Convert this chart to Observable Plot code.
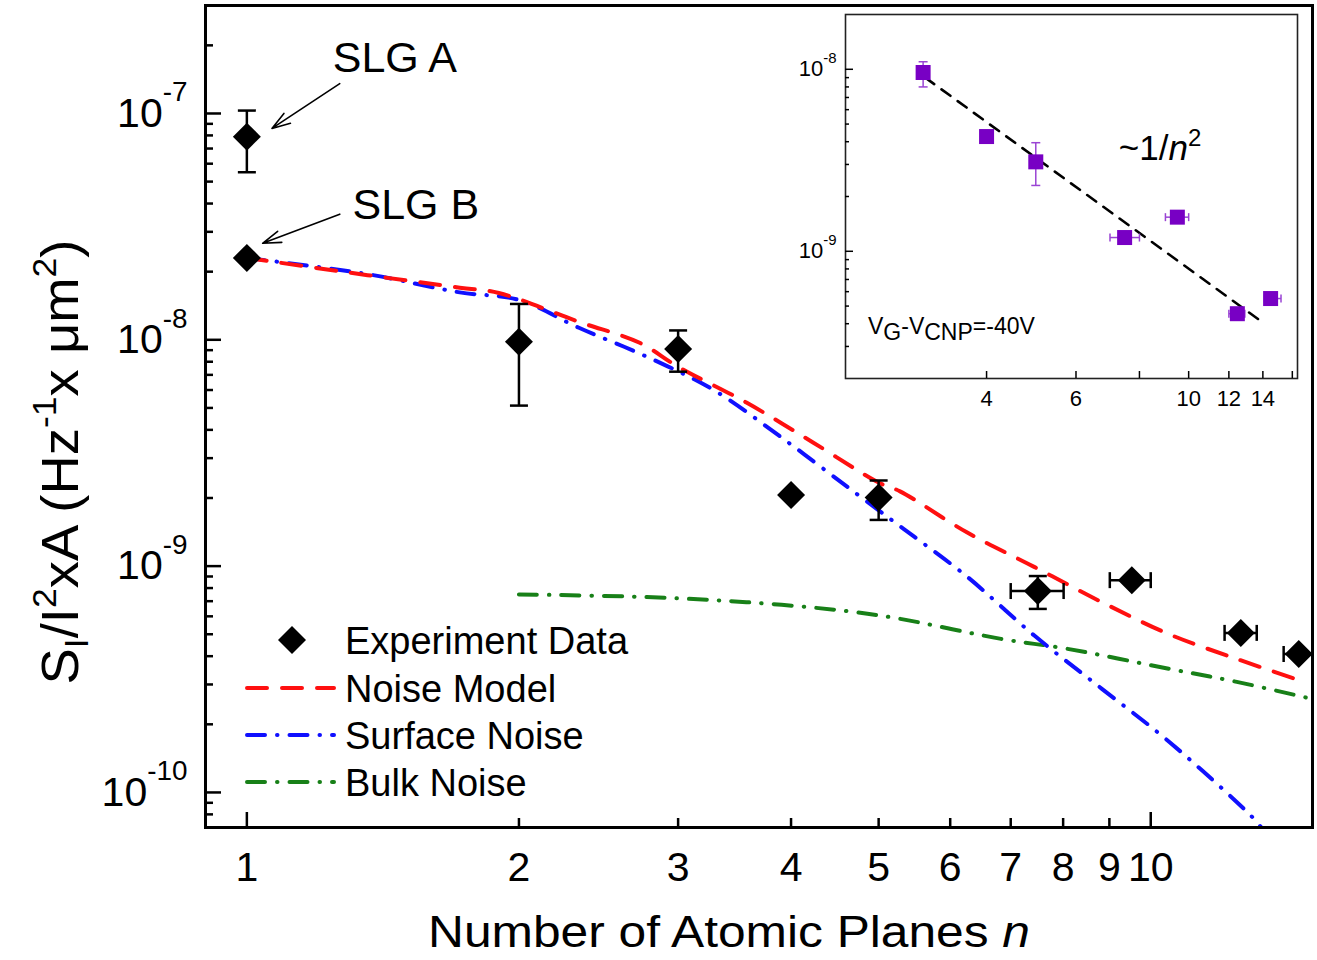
<!DOCTYPE html>
<html><head><meta charset="utf-8">
<script src="https://cdn.jsdelivr.net/npm/d3@7"></script>
<script src="https://cdn.jsdelivr.net/npm/@observablehq/plot@0.6"></script>
<style>
body{margin:0;background:#fff;}
#wrap{position:relative;width:1317px;height:960px;font-family:"Liberation Sans",Arial,sans-serif;}
#main{position:absolute;left:0;top:0;}
#inset{position:absolute;left:785px;top:4px;}
</style></head><body><div id="wrap"><div id="main"></div><div id="inset"></div></div>
<script>
// ---------- Main panel data ----------
const expN   = [1, 1, 2, 3, 4, 5, 7.5, 9.53, 12.58, 14.58];
const expV   = [7.9e-8, 2.3e-8, 9.8e-9, 9.1e-9, 2.06e-9, 2.01e-9, 7.76e-10, 8.67e-10, 5.07e-10, 4.09e-10];
const expYLo = [5.5e-8, null, 5.12e-9, 7.23e-9, null, 1.6e-9, 6.47e-10, null, null, null];
const expYHi = [1.03e-7, null, 1.44e-8, 1.10e-8, null, 2.39e-9, 9.04e-10, null, null, null];
const expXLo = [null, null, null, null, null, null, 7.0, 9.01, 12.07, 14.03];
const expXHi = [null, null, null, null, null, null, 8.01, 10.0, 13.1, 15.1];

const modelN = [1, 1.36, 1.72, 1.9, 2.33, 2.72, 3.0, 3.57, 4.23, 5.0, 5.28, 6.26, 7.44, 8.83, 10.47, 12.45, 14.47];
const modelV = [2.3e-8, 1.93e-8, 1.7e-8, 1.61e-8, 1.2e-8, 9.7e-9, 7.6e-9, 5.28e-9, 3.52e-9, 2.34e-9, 2.14e-9, 1.41e-9, 9.9e-10, 6.93e-10, 5.01e-10, 3.89e-10, 3.17e-10];

const surfN = [1, 1.36, 1.72, 2.0, 2.33, 2.77, 3.28, 3.89, 4.61, 5.28, 5.46, 6.26, 7.44, 8.83, 10.47, 12.93, 13.25];
const surfV = [2.3e-8, 1.95e-8, 1.62e-8, 1.5e-8, 1.13e-8, 8.42e-9, 6.02e-9, 3.74e-9, 2.25e-9, 1.5e-9, 1.36e-9, 9.0e-10, 4.92e-10, 2.87e-10, 1.68e-10, 7.84e-11, 7.0e-11];

const bulkN = [2.0, 2.77, 3.57, 4.61, 5.28, 6.83, 8.09, 10.47, 12.45, 15.07];
const bulkV = [7.5e-10, 7.3e-10, 6.93e-10, 6.33e-10, 5.85e-10, 4.77e-10, 4.31e-10, 3.52e-10, 3.08e-10, 2.59e-10];

const annotLabels = ["SLG A", "SLG B"];
const annotN      = [1.458, 1.538];
const annotV      = [1.75e-7, 3.94e-8];
const arrowFromN  = [1.267, 1.267];
const arrowFromV  = [1.355e-7, 3.59e-8];
const arrowToN    = [1.066, 1.041];
const arrowToV    = [8.59e-8, 2.67e-8];

const xTickLabels = [1, 2, 3, 4, 5, 6, 7, 8, 9, 10];
const xMajorTicks = [1, 10];
const xMinorTicks = [2, 3, 4, 5, 6, 7, 8, 9];
const yMajorTicks = [1e-10, 1e-9, 1e-8, 1e-7];
const yMinorTicks = [7e-11, 8e-11, 9e-11,
  2e-10, 3e-10, 4e-10, 5e-10, 6e-10, 7e-10, 8e-10, 9e-10,
  2e-9, 3e-9, 4e-9, 5e-9, 6e-9, 7e-9, 8e-9, 9e-9,
  2e-8, 3e-8, 4e-8, 5e-8, 6e-8, 7e-8, 8e-8, 9e-8, 2e-7];

const legendLabels = ["Experiment Data", "Noise Model", "Surface Noise", "Bulk Noise"];

// ---------- Inset data ----------
const insetN   = [3.0, 4.0, 5.0, 7.48, 9.5, 12.47, 14.5];
const insetV   = [9.6e-9, 4.27e-9, 3.1e-9, 1.19e-9, 1.54e-9, 4.54e-10, 5.5e-10];
const insetYLo = [8.0e-9, null, 2.3e-9, null, null, null, null];
const insetYHi = [1.1e-8, null, 3.95e-9, null, null, null, null];
const insetXLo = [null, null, null, 7.0, 9.0, 12.0, 14.1];
const insetXHi = [null, null, null, 8.0, 10.0, 12.9, 15.2];
const fitN = [3.03, 14.0];
const fitV = [9.0e-9, 4.06e-10];
const insetXTicks = [4, 6, 8, 10, 12, 14, 16];
const insetYMajor = [1e-9, 1e-8];
const insetYMinor = [3e-10, 4e-10, 5e-10, 6e-10, 7e-10, 8e-10, 9e-10,
  2e-9, 3e-9, 4e-9, 5e-9, 6e-9, 7e-9, 8e-9, 9e-9];

// ---------- helpers ----------
const RED = "#ff1010", BLUE = "#1010ff", GREEN = "#188018", PURPLE = "#7800c4", PURPLE_L = "#9a44d4";
const FONT = "Liberation Sans, Arial, sans-serif";
const diamond = {draw(ctx, size){const r=Math.sqrt(size/Math.PI); ctx.moveTo(0,-r); ctx.lineTo(r,0); ctx.lineTo(0,r); ctx.lineTo(-r,0); ctx.closePath();}};
const square = {draw(ctx, size){const r=Math.sqrt(size/Math.PI); ctx.rect(-r,-r,2*r,2*r);}};
const hcap = {draw(ctx, size){const r=Math.sqrt(size/Math.PI); ctx.moveTo(-r,0); ctx.lineTo(r,0);}};
const vcap = {draw(ctx, size){const r=Math.sqrt(size/Math.PI); ctx.moveTo(0,-r); ctx.lineTo(0,r);}};
const rows = (N, V) => N.map((n, i) => ({n, v: V[i]}));
const expo = d => `10^${Math.round(Math.log10(d))}`;

const exp = expN.map((n,i)=>({n, v:expV[i], ylo:expYLo[i], yhi:expYHi[i], xlo:expXLo[i], xhi:expXHi[i]}));
const expY = exp.filter(d=>d.ylo!=null), expX = exp.filter(d=>d.xlo!=null);
const annots = annotLabels.map((label,i)=>({label, n:annotN[i], v:annotV[i], x1:arrowFromN[i], y1:arrowFromV[i], x2:arrowToN[i], y2:arrowToV[i]}));

const main = Plot.plot({
  width: 1317, height: 960,
  marginLeft: 205, marginRight: 5, marginTop: 5, marginBottom: 133,
  x: {type: "log", domain: [0.9, 15.1]},
  y: {type: "log", domain: [7e-11, 3e-7]},
  style: {fontFamily: FONT, background: "white", color: "black"},
  marks: [
    Plot.line(rows(bulkN, bulkV), {x:"n", y:"v", stroke:GREEN, strokeWidth:4, strokeDasharray:"18,12,0.5,12", strokeLinecap:"round", curve:"catmull-rom", clip:true}),
    Plot.line(rows(surfN, surfV), {x:"n", y:"v", stroke:BLUE, strokeWidth:4, strokeDasharray:"18,12,0.5,12", strokeLinecap:"round", curve:"catmull-rom", clip:true}),
    Plot.line(rows(modelN, modelV), {x:"n", y:"v", stroke:RED, strokeWidth:4, strokeDasharray:"20,15", strokeLinecap:"round", curve:"catmull-rom", clip:true}),
    Plot.link(expY, {x1:"n", x2:"n", y1:"ylo", y2:"yhi", stroke:"black", strokeWidth:2.5}),
    Plot.dot(expY, {x:"n", y:"ylo", symbol:hcap, r:9, stroke:"black", strokeWidth:2.5, fill:"none"}),
    Plot.dot(expY, {x:"n", y:"yhi", symbol:hcap, r:9, stroke:"black", strokeWidth:2.5, fill:"none"}),
    Plot.link(expX, {x1:"xlo", x2:"xhi", y1:"v", y2:"v", stroke:"black", strokeWidth:2.5}),
    Plot.dot(expX, {x:"xlo", y:"v", symbol:vcap, r:8, stroke:"black", strokeWidth:2.5, fill:"none"}),
    Plot.dot(expX, {x:"xhi", y:"v", symbol:vcap, r:8, stroke:"black", strokeWidth:2.5, fill:"none"}),
    Plot.dot(exp, {x:"n", y:"v", symbol:diamond, r:14, fill:"black"}),
    Plot.arrow(annots, {x1:"x1", y1:"y1", x2:"x2", y2:"y2", stroke:"black", strokeWidth:1.6, headLength:18, headAngle:36}),
    Plot.text(annots, {x:"n", y:"v", text:"label", fontSize:43, fill:"black"}),
    Plot.frame({stroke:"black", strokeWidth:3}),
    Plot.axisX(xTickLabels, {tickSize:0, tickPadding:24, fontSize:41, tickFormat:d=>String(d), label:null}),
    Plot.axisX(xMajorTicks, {tickSize:-15, strokeWidth:2.5, tickFormat:()=>"", label:null}),
    Plot.axisX(xMinorTicks, {tickSize:-9, strokeWidth:2.5, tickFormat:()=>"", label:null}),
    Plot.axisY(yMajorTicks, {tickSize:0, tickPadding:18, fontSize:41, tickFormat:expo, label:null}),
    Plot.axisY(yMajorTicks, {tickSize:-16, strokeWidth:2.5, tickFormat:()=>"", label:null}),
    Plot.axisY(yMinorTicks, {tickSize:-8, strokeWidth:2.5, tickFormat:()=>"", label:null})
  ]
});

const insetRows = insetN.map((n,i)=>({n, v:insetV[i], ylo:insetYLo[i], yhi:insetYHi[i], xlo:insetXLo[i], xhi:insetXHi[i]}));
const insY = insetRows.filter(d=>d.ylo!=null), insX = insetRows.filter(d=>d.xlo!=null);

const inset = Plot.plot({
  width: 522, height: 410,
  marginLeft: 60, marginRight: 10, marginTop: 10, marginBottom: 36,
  x: {type: "log", domain: [2.11, 16.38]},
  y: {type: "log", domain: [2.0e-10, 2.0e-8]},
  style: {fontFamily: FONT, background: "transparent", color: "black", overflow: "visible"},
  marks: [
    Plot.frame({fill:"white", stroke:"#222", strokeWidth:1.6}),
    Plot.line(rows(fitN, fitV), {x:"n", y:"v", stroke:"black", strokeWidth:2.6, strokeDasharray:"11,9"}),
    Plot.link(insY, {x1:"n", x2:"n", y1:"ylo", y2:"yhi", stroke:PURPLE_L, strokeWidth:1.5}),
    Plot.dot(insY, {x:"n", y:"ylo", symbol:hcap, r:4.5, stroke:PURPLE_L, strokeWidth:1.5, fill:"none"}),
    Plot.dot(insY, {x:"n", y:"yhi", symbol:hcap, r:4.5, stroke:PURPLE_L, strokeWidth:1.5, fill:"none"}),
    Plot.link(insX, {x1:"xlo", x2:"xhi", y1:"v", y2:"v", stroke:PURPLE_L, strokeWidth:1.5}),
    Plot.dot(insX, {x:"xlo", y:"v", symbol:vcap, r:4, stroke:PURPLE_L, strokeWidth:1.5, fill:"none"}),
    Plot.dot(insX, {x:"xhi", y:"v", symbol:vcap, r:4, stroke:PURPLE_L, strokeWidth:1.5, fill:"none"}),
    Plot.dot(insetRows, {x:"n", y:"v", symbol:square, r:7.5, fill:PURPLE}),
    Plot.axisX(insetXTicks, {tickSize:-7, tickPadding:19, strokeWidth:1.5, fontSize:22, tickFormat:d=>d===16?"":String(d), label:null}),
    Plot.axisY(insetYMajor, {tickSize:-8, tickPadding:17, strokeWidth:1.5, fontSize:22, tickFormat:expo, label:null}),
    Plot.axisY(insetYMinor, {tickSize:-4, strokeWidth:1.5, tickFormat:()=>"", label:null})
  ]
});

// turn "10^-7" tick labels into real superscripts
function supify(svg, fs){
  d3.select(svg).selectAll("text").each(function(){
    const m = /^10\^(-?\d+)$/.exec(this.textContent);
    if (!m) return;
    const t = d3.select(this);
    t.text("");
    t.append("tspan").attr("font-size", fs).text("10");
    t.append("tspan").attr("dy", -0.62*fs).attr("font-size", 0.68*fs).text(m[1]);
  });
}
supify(main, 41);
supify(inset, 22);

const ms = d3.select(main);
// x title
ms.append("text").attr("x", 729).attr("y", 947).attr("text-anchor","middle")
  .attr("font-size", 45).attr("font-family", FONT).attr("fill","black")
  .attr("textLength", 602).attr("lengthAdjust","spacingAndGlyphs")
  .call(t=>{t.append("tspan").text("Number of Atomic Planes "); t.append("tspan").attr("font-style","italic").text("n");});
// y title
{
  const t = ms.append("text").attr("transform","translate(78,462) rotate(-90)").attr("text-anchor","middle")
    .attr("font-size", 52).attr("font-family", FONT).attr("fill","black")
    .attr("textLength", 445).attr("lengthAdjust","spacingAndGlyphs");
  t.append("tspan").text("S");
  t.append("tspan").attr("font-size",34).attr("dy",10).text("I");
  t.append("tspan").attr("dy",-10).text("/I");
  t.append("tspan").attr("font-size",34).attr("dy",-22).text("2");
  t.append("tspan").attr("dy",22).text("xA (Hz");
  t.append("tspan").attr("font-size",34).attr("dy",-22).text("-1");
  t.append("tspan").attr("dy",22).text("x \u03bcm");
  t.append("tspan").attr("font-size",34).attr("dy",-22).text("2");
  t.append("tspan").attr("dy",22).text(")");
}
// legend
{
  const g = ms.append("g").attr("font-family", FONT).attr("font-size", 38).attr("fill","black").attr("text-anchor","start");
  const ys = [640, 688, 735, 782];
  g.append("path").attr("d", d3.symbol(diamond, Math.PI*14*14)()).attr("transform", `translate(292,${ys[0]})`).attr("fill","black");
  const styles = [[RED,"20,15"],[BLUE,"18,12,0.5,12"],[GREEN,"18,12,0.5,12"]];
  styles.forEach(([c,da],i)=>{
    g.append("line").attr("x1",247).attr("x2",334).attr("y1",ys[i+1]).attr("y2",ys[i+1])
      .attr("stroke",c).attr("stroke-width",4).attr("stroke-dasharray",da).attr("stroke-linecap","round");
  });
  legendLabels.forEach((s,i)=>g.append("text").attr("x",345).attr("y",ys[i]+14).attr("text-anchor","start").text(s));
}

const is = d3.select(inset);
{
  const t = is.append("text").attr("x", 375).attr("y", 156).attr("text-anchor","middle")
    .attr("font-size", 35).attr("font-family", FONT).attr("fill","black");
  t.append("tspan").text("~1/");
  t.append("tspan").attr("font-style","italic").text("n");
  t.append("tspan").attr("font-size",24).attr("dy",-14).text("2");
}
{
  const t = is.append("text").attr("x", 83).attr("y", 330).attr("text-anchor","start")
    .attr("font-size", 23).attr("font-family", FONT).attr("fill","black");
  t.append("tspan").text("V");
  t.append("tspan").attr("dy",6).text("G");
  t.append("tspan").attr("dy",-6).text("-V");
  t.append("tspan").attr("dy",6).text("CNP");
  t.append("tspan").attr("dy",-6).text("=-40V");
}

document.getElementById("main").appendChild(main);
document.getElementById("inset").appendChild(inset);
</script></body></html>
